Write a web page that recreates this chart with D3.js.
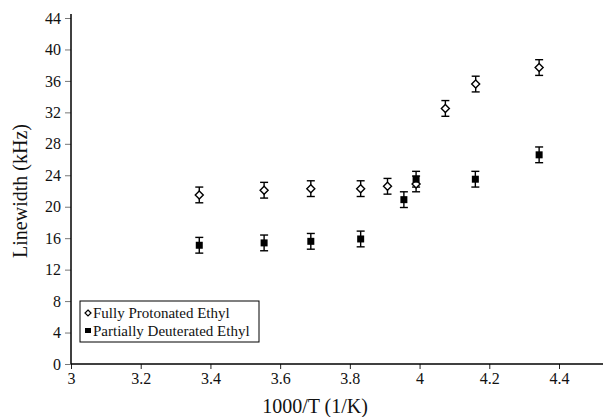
<html>
  <head>
    <script src="https://d3js.org/d3.v7.min.js" charset="utf-8"></script>
    <style>
      body { margin: 0; background: #fff; }
    </style>
    <script type="text/javascript">
      window.onload = function(){

        // Fully Protonated Ethyl (open diamonds)
        var protX = [3.368, 3.554, 3.688, 3.831, 3.908, 3.990, 4.074, 4.161, 4.343]
        var protY = [21.5, 22.1, 22.3, 22.3, 22.6, 22.9, 32.5, 35.6, 37.7]
        // Partially Deuterated Ethyl (filled squares)
        var deutX = [3.368, 3.554, 3.688, 3.831, 3.955, 3.990, 4.160, 4.343]
        var deutY = [15.1, 15.4, 15.6, 15.9, 20.9, 23.5, 23.5, 26.6]
        var errBar = 1.0 // +/- kHz

        var xTicks = [3, 3.2, 3.4, 3.6, 3.8, 4, 4.2, 4.4]
        var yTicks = [0, 4, 8, 12, 16, 20, 24, 28, 32, 36, 40, 44]
        var legendNames = ["Fully Protonated Ethyl", "Partially Deuterated Ethyl"]

        var width = 603
        var height = 417
        var serif = "Liberation Serif, DejaVu Serif, Times, serif"

        var x = d3.scaleLinear().domain([3, 4.4]).range([71, 559])
        var y = d3.scaleLinear().domain([0, 44]).range([364, 18])

        var svg = d3.select("body")
          .append("svg")
          .attr("width", width)
          .attr("height", height)
          .attr("font-family", serif)

        // x axis
        var xAxis = svg.append("g")
          .attr("transform", "translate(0," + y(0) + ")")
          .call(d3.axisBottom(x).tickValues(xTicks).tickSize(5).tickPadding(4)
            .tickFormat(function(d){ return d3.format("~g")(d) }))
        xAxis.attr("font-family", serif).attr("font-size", 16)
        xAxis.select(".domain").remove()
        xAxis.append("line")
          .attr("x1", x(3)).attr("x2", 603)
          .attr("stroke", "#000").attr("stroke-width", 1.5)
        xAxis.selectAll(".tick line").attr("stroke", "#222")
        xAxis.selectAll("text").attr("fill", "#111")

        // y axis
        var yAxis = svg.append("g")
          .attr("transform", "translate(" + x(3) + ",0)")
          .call(d3.axisLeft(y).tickValues(yTicks).tickSize(6).tickPadding(4))
        yAxis.attr("font-family", serif).attr("font-size", 16)
        yAxis.select(".domain").remove()
        yAxis.append("line")
          .attr("y1", y(0)).attr("y2", y(44) - 4)
          .attr("stroke", "#000").attr("stroke-width", 1.5)
        yAxis.selectAll(".tick line").attr("stroke", "#777")
        yAxis.selectAll("text").attr("fill", "#111")

        // axis titles
        svg.append("text")
          .attr("x", 315).attr("y", 413)
          .attr("text-anchor", "middle")
          .attr("font-size", 20)
          .attr("fill", "#111")
          .text("1000/T (1/K)")

        svg.append("text")
          .attr("transform", "translate(27," + y(22) + ") rotate(-90)")
          .attr("text-anchor", "middle")
          .attr("font-size", 20)
          .attr("fill", "#111")
          .text("Linewidth (kHz)")

        function drawErrors(xs, ys){
          var g = svg.append("g").attr("stroke", "#000").attr("stroke-width", 1.4)
          xs.forEach(function(d, i){
            var cx = x(d)
            g.append("line").attr("x1", cx).attr("x2", cx)
              .attr("y1", y(ys[i] + errBar)).attr("y2", y(ys[i] - errBar))
            g.append("line").attr("x1", cx - 4).attr("x2", cx + 4)
              .attr("y1", y(ys[i] + errBar)).attr("y2", y(ys[i] + errBar))
            g.append("line").attr("x1", cx - 4).attr("x2", cx + 4)
              .attr("y1", y(ys[i] - errBar)).attr("y2", y(ys[i] - errBar))
          })
        }

        drawErrors(protX, protY)
        drawErrors(deutX, deutY)

        var diamond = "M0,-4L4,0L0,4L-4,0Z"

        svg.append("g").selectAll("path")
          .data(protX)
          .enter()
          .append("path")
          .attr("d", diamond)
          .attr("transform", function(d, i){ return "translate(" + x(d) + "," + y(protY[i]) + ")" })
          .attr("fill", "#fff")
          .attr("stroke", "#000")
          .attr("stroke-width", 1.4)

        svg.append("g").selectAll("rect")
          .data(deutX)
          .enter()
          .append("rect")
          .attr("x", function(d){ return x(d) - 3.5 })
          .attr("y", function(d, i){ return y(deutY[i]) - 3.5 })
          .attr("width", 7)
          .attr("height", 7)
          .attr("fill", "#000")

        // legend
        var lg = svg.append("g")
        lg.append("rect")
          .attr("x", 80).attr("y", 301)
          .attr("width", 179).attr("height", 41)
          .attr("fill", "#fff").attr("stroke", "#000").attr("stroke-width", 1)
        lg.append("path")
          .attr("d", "M0,-3L3,0L0,3L-3,0Z")
          .attr("transform", "translate(88,313)")
          .attr("fill", "#fff").attr("stroke", "#000").attr("stroke-width", 1.2)
        lg.append("rect")
          .attr("x", 85).attr("y", 328).attr("width", 6).attr("height", 5)
          .attr("fill", "#000")
        lg.selectAll("text")
          .data(legendNames)
          .enter()
          .append("text")
          .attr("x", 93)
          .attr("y", function(d, i){ return 318 + i * 18 })
          .attr("font-size", 15)
          .attr("fill", "#111")
          .text(function(d){ return d })
      }
    </script>
  </head>
  <body>
  </body>
</html>
